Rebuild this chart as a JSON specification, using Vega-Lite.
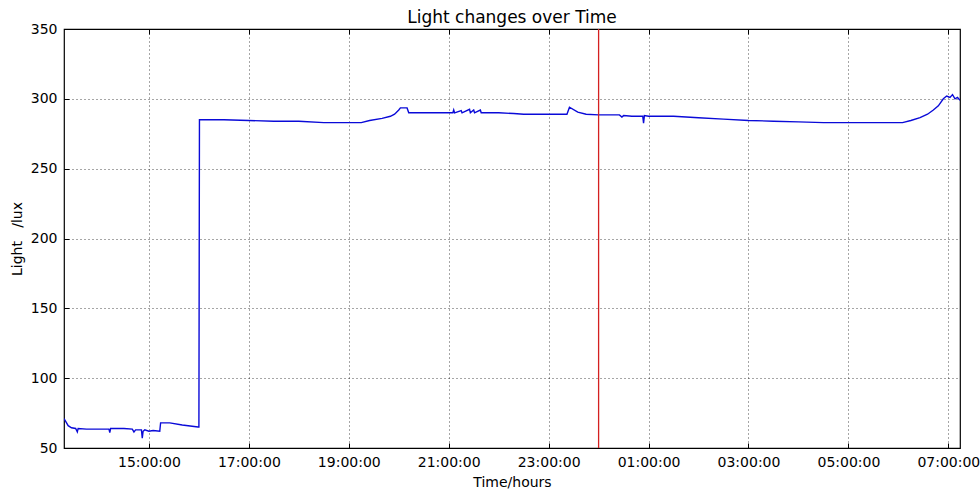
{
  "$schema": "https://vega.github.io/schema/vega-lite/v6.json",
  "width": 896,
  "height": 419,
  "autosize": "none",
  "padding": {"left": 64, "top": 29, "right": 20, "bottom": 43},
  "background": "white",
  "config": {
    "font": "DejaVu Sans",
    "view": {"stroke": "black", "strokeWidth": 1.2},
    "axis": {
      "labelFont": "DejaVu Sans",
      "labelFontSize": 14,
      "labelColor": "black",
      "titleFont": "DejaVu Sans",
      "titleFontSize": 14,
      "titleFontWeight": "normal",
      "titleColor": "black",
      "domain": false,
      "tickColor": "black",
      "tickSize": -5,
      "labelPadding": 12,
      "gridColor": "black",
      "gridOpacity": 0.7,
      "gridDash": [1, 3],
      "gridWidth": 1
    }
  },
  "title": {
    "text": "Light changes over Time",
    "font": "DejaVu Sans",
    "fontSize": 17,
    "fontWeight": "normal",
    "color": "black",
    "offset": -5
  },
  "datasets": {
    "light": [
      {"time": "2017-01-01T13:18:00Z", "lux": 71},
      {"time": "2017-01-01T13:20:00Z", "lux": 69},
      {"time": "2017-01-01T13:23:00Z", "lux": 66},
      {"time": "2017-01-01T13:27:00Z", "lux": 64.5},
      {"time": "2017-01-01T13:32:00Z", "lux": 64},
      {"time": "2017-01-01T13:34:00Z", "lux": 61.5},
      {"time": "2017-01-01T13:35:00Z", "lux": 64},
      {"time": "2017-01-01T13:45:00Z", "lux": 63.5},
      {"time": "2017-01-01T14:00:00Z", "lux": 63.5},
      {"time": "2017-01-01T14:12:00Z", "lux": 63.5},
      {"time": "2017-01-01T14:13:00Z", "lux": 61},
      {"time": "2017-01-01T14:14:00Z", "lux": 64},
      {"time": "2017-01-01T14:30:00Z", "lux": 64},
      {"time": "2017-01-01T14:40:00Z", "lux": 63.5},
      {"time": "2017-01-01T14:42:00Z", "lux": 61.5},
      {"time": "2017-01-01T14:44:00Z", "lux": 63},
      {"time": "2017-01-01T14:51:00Z", "lux": 63},
      {"time": "2017-01-01T14:52:00Z", "lux": 57},
      {"time": "2017-01-01T14:53:00Z", "lux": 62},
      {"time": "2017-01-01T14:55:00Z", "lux": 63},
      {"time": "2017-01-01T15:00:00Z", "lux": 62},
      {"time": "2017-01-01T15:05:00Z", "lux": 62.5},
      {"time": "2017-01-01T15:13:00Z", "lux": 62},
      {"time": "2017-01-01T15:14:00Z", "lux": 68},
      {"time": "2017-01-01T15:25:00Z", "lux": 68},
      {"time": "2017-01-01T15:40:00Z", "lux": 66.5},
      {"time": "2017-01-01T15:59:00Z", "lux": 65},
      {"time": "2017-01-01T16:00:00Z", "lux": 65},
      {"time": "2017-01-01T16:00:40Z", "lux": 285},
      {"time": "2017-01-01T16:30:00Z", "lux": 285},
      {"time": "2017-01-01T17:00:00Z", "lux": 284.5},
      {"time": "2017-01-01T17:30:00Z", "lux": 284},
      {"time": "2017-01-01T18:00:00Z", "lux": 284},
      {"time": "2017-01-01T18:30:00Z", "lux": 283},
      {"time": "2017-01-01T19:00:00Z", "lux": 283},
      {"time": "2017-01-01T19:15:00Z", "lux": 283},
      {"time": "2017-01-01T19:25:00Z", "lux": 284.5},
      {"time": "2017-01-01T19:40:00Z", "lux": 286},
      {"time": "2017-01-01T19:50:00Z", "lux": 287.5},
      {"time": "2017-01-01T19:55:00Z", "lux": 289},
      {"time": "2017-01-01T20:00:00Z", "lux": 292},
      {"time": "2017-01-01T20:02:00Z", "lux": 293.5},
      {"time": "2017-01-01T20:10:00Z", "lux": 293.5},
      {"time": "2017-01-01T20:12:00Z", "lux": 290},
      {"time": "2017-01-01T20:30:00Z", "lux": 290},
      {"time": "2017-01-01T20:50:00Z", "lux": 290},
      {"time": "2017-01-01T21:05:00Z", "lux": 290},
      {"time": "2017-01-01T21:06:00Z", "lux": 292},
      {"time": "2017-01-01T21:07:00Z", "lux": 290},
      {"time": "2017-01-01T21:15:00Z", "lux": 291.5},
      {"time": "2017-01-01T21:16:00Z", "lux": 290},
      {"time": "2017-01-01T21:25:00Z", "lux": 292.5},
      {"time": "2017-01-01T21:26:00Z", "lux": 290},
      {"time": "2017-01-01T21:30:00Z", "lux": 292},
      {"time": "2017-01-01T21:31:00Z", "lux": 290},
      {"time": "2017-01-01T21:38:00Z", "lux": 292},
      {"time": "2017-01-01T21:39:00Z", "lux": 290},
      {"time": "2017-01-01T22:00:00Z", "lux": 290},
      {"time": "2017-01-01T22:18:00Z", "lux": 289.5},
      {"time": "2017-01-01T22:30:00Z", "lux": 289},
      {"time": "2017-01-01T23:00:00Z", "lux": 289},
      {"time": "2017-01-01T23:22:00Z", "lux": 289},
      {"time": "2017-01-01T23:25:00Z", "lux": 294},
      {"time": "2017-01-01T23:35:00Z", "lux": 290.5},
      {"time": "2017-01-01T23:45:00Z", "lux": 289},
      {"time": "2017-01-02T00:00:00Z", "lux": 288.5},
      {"time": "2017-01-02T00:25:00Z", "lux": 288.5},
      {"time": "2017-01-02T00:28:00Z", "lux": 287},
      {"time": "2017-01-02T00:30:00Z", "lux": 288},
      {"time": "2017-01-02T00:40:00Z", "lux": 287.5},
      {"time": "2017-01-02T00:53:00Z", "lux": 287.5},
      {"time": "2017-01-02T00:54:00Z", "lux": 282.5},
      {"time": "2017-01-02T00:55:00Z", "lux": 288},
      {"time": "2017-01-02T01:00:00Z", "lux": 287.5},
      {"time": "2017-01-02T01:30:00Z", "lux": 287.5},
      {"time": "2017-01-02T02:00:00Z", "lux": 286.5},
      {"time": "2017-01-02T02:30:00Z", "lux": 285.5},
      {"time": "2017-01-02T03:00:00Z", "lux": 284.5},
      {"time": "2017-01-02T03:30:00Z", "lux": 284},
      {"time": "2017-01-02T04:00:00Z", "lux": 283.5},
      {"time": "2017-01-02T04:30:00Z", "lux": 283},
      {"time": "2017-01-02T05:00:00Z", "lux": 283},
      {"time": "2017-01-02T05:30:00Z", "lux": 283},
      {"time": "2017-01-02T06:05:00Z", "lux": 283},
      {"time": "2017-01-02T06:15:00Z", "lux": 284.5},
      {"time": "2017-01-02T06:26:00Z", "lux": 286.5},
      {"time": "2017-01-02T06:35:00Z", "lux": 289},
      {"time": "2017-01-02T06:42:00Z", "lux": 292},
      {"time": "2017-01-02T06:48:00Z", "lux": 295},
      {"time": "2017-01-02T06:54:00Z", "lux": 300},
      {"time": "2017-01-02T06:58:00Z", "lux": 302},
      {"time": "2017-01-02T07:02:00Z", "lux": 301},
      {"time": "2017-01-02T07:05:00Z", "lux": 303},
      {"time": "2017-01-02T07:08:00Z", "lux": 300},
      {"time": "2017-01-02T07:11:00Z", "lux": 301},
      {"time": "2017-01-02T07:14:00Z", "lux": 299}
    ],
    "marker": [
      {"time": "2017-01-02T00:00:00Z"}
    ]
  },
  "layer": [
    {
      "data": {"name": "light"},
      "mark": {"type": "line", "color": "#0a0ad8", "strokeWidth": 1.4, "clip": true},
      "encoding": {
        "x": {
          "field": "time",
          "type": "temporal",
          "title": "Time/hours",
          "scale": {
            "type": "utc",
            "domain": [
              {"year": 2017, "month": 1, "date": 1, "hours": 13, "minutes": 18, "utc": true},
              {"year": 2017, "month": 1, "date": 2, "hours": 7, "minutes": 14, "utc": true}
            ]
          },
          "axis": {
            "format": "%H:%M:%S",
            "titlePadding": 6,
            "values": [
              {"year": 2017, "month": 1, "date": 1, "hours": 15, "utc": true},
              {"year": 2017, "month": 1, "date": 1, "hours": 17, "utc": true},
              {"year": 2017, "month": 1, "date": 1, "hours": 19, "utc": true},
              {"year": 2017, "month": 1, "date": 1, "hours": 21, "utc": true},
              {"year": 2017, "month": 1, "date": 1, "hours": 23, "utc": true},
              {"year": 2017, "month": 1, "date": 2, "hours": 1, "utc": true},
              {"year": 2017, "month": 1, "date": 2, "hours": 3, "utc": true},
              {"year": 2017, "month": 1, "date": 2, "hours": 5, "utc": true},
              {"year": 2017, "month": 1, "date": 2, "hours": 7, "utc": true}
            ]
          }
        },
        "y": {
          "field": "lux",
          "type": "quantitative",
          "title": "Light\u00a0\u00a0\u00a0/lux",
          "scale": {"domain": [50, 350], "nice": false, "zero": false},
          "axis": {"values": [50, 100, 150, 200, 250, 300, 350], "titlePadding": 6}
        }
      }
    },
    {
      "data": {"name": "marker"},
      "mark": {"type": "rule", "color": "#d42020", "strokeWidth": 1.3},
      "encoding": {
        "x": {
          "field": "time",
          "type": "temporal",
          "axis": {
            "orient": "top",
            "labels": false,
            "grid": false,
            "title": null,
            "values": [
              {"year": 2017, "month": 1, "date": 1, "hours": 15, "utc": true},
              {"year": 2017, "month": 1, "date": 1, "hours": 17, "utc": true},
              {"year": 2017, "month": 1, "date": 1, "hours": 19, "utc": true},
              {"year": 2017, "month": 1, "date": 1, "hours": 21, "utc": true},
              {"year": 2017, "month": 1, "date": 1, "hours": 23, "utc": true},
              {"year": 2017, "month": 1, "date": 2, "hours": 1, "utc": true},
              {"year": 2017, "month": 1, "date": 2, "hours": 3, "utc": true},
              {"year": 2017, "month": 1, "date": 2, "hours": 5, "utc": true},
              {"year": 2017, "month": 1, "date": 2, "hours": 7, "utc": true}
            ]
          }
        }
      }
    }
  ],
  "resolve": {"axis": {"x": "independent"}}
}
